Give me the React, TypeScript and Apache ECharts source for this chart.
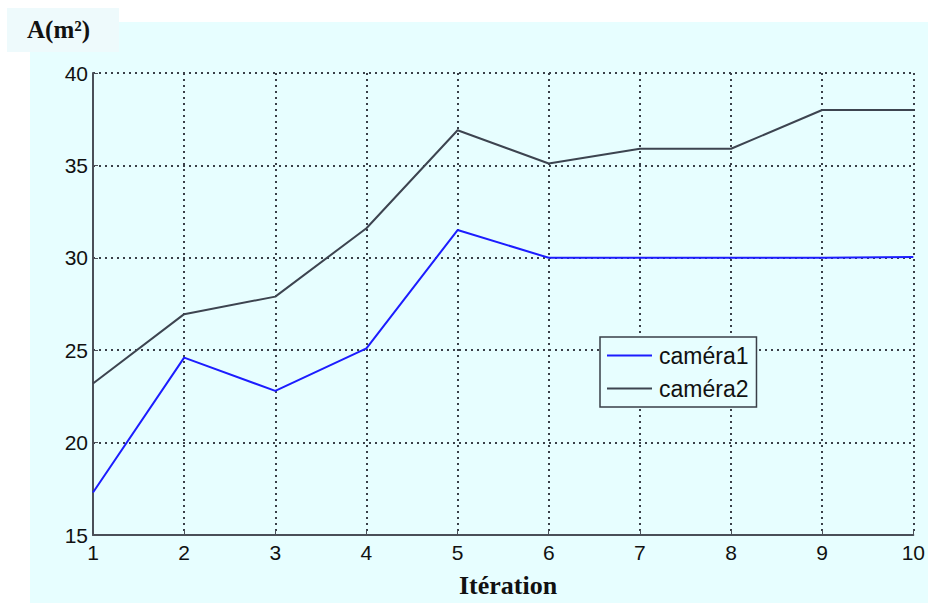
import React, { useEffect, useRef } from "react";
import * as echarts from "echarts";

const iterations = [1, 2, 3, 4, 5, 6, 7, 8, 9, 10];
const camera1 = [17.3, 24.6, 22.8, 25.1, 31.5, 30.0, 30.0, 30.0, 30.0, 30.05];
const camera2 = [23.2, 26.95, 27.9, 31.6, 36.9, 35.1, 35.9, 35.9, 38.0, 38.0];
const seriesNames = ["caméra1", "caméra2"];
const yTitle = "A(m²)";
const xTitle = "Itération";

export default function App() {
  const ref = useRef<HTMLDivElement>(null);
  useEffect(() => {
    if (!ref.current) return;
    const chart = echarts.init(ref.current, null, { renderer: "svg" });
    const dotted = { color: "#3a3f48", width: 2, type: [2, 4] as any };
    const labelFont = { fontFamily: "'Liberation Sans', Arial, sans-serif", fontSize: 21, color: "#111" };
    chart.setOption({
      animation: false,
      backgroundColor: "#ffffff",
      graphic: [
        { type: "rect", z: -10, silent: true, shape: { x: 30, y: 22, width: 898, height: 581 }, style: { fill: "#e7feff" } },
        { type: "rect", z: -9, silent: true, shape: { x: 7, y: 8, width: 112, height: 44 }, style: { fill: "#eefafc" } },
        {
          type: "text", left: 27, top: 17,
          style: { text: yTitle, font: "bold 25px 'Liberation Serif', 'Times New Roman', serif", fill: "#111" },
        },
        {
          type: "text", left: 459, top: 572,
          style: { text: xTitle, font: "bold 26px 'Liberation Serif', 'Times New Roman', serif", fill: "#111" },
        },
      ],
      grid: { left: 93, right: 14, top: 73, bottom: 68, containLabel: false },
      legend: {
        orient: "vertical",
        left: 600,
        top: 337,
        padding: [7, 8, 7, 7],
        itemGap: 10,
        itemWidth: 45,
        itemHeight: 2,
        icon: "rect",
        borderColor: "#3a3f48",
        borderWidth: 1.5,
        borderRadius: 0,
        backgroundColor: "#e7feff",
        textStyle: { fontFamily: "'Liberation Sans', Arial, sans-serif", fontSize: 23, color: "#111", padding: [0, 0, 0, 2] },
        data: seriesNames,
      },
      xAxis: {
        type: "value",
        min: 1,
        max: 10,
        interval: 1,
        axisLine: { show: true, onZero: false, lineStyle: { color: "#4a4f58", width: 2 } },
        axisTick: { show: true, inside: true, length: 5, lineStyle: { color: "#4a4f58" } },
        axisLabel: { ...labelFont, margin: 7 },
        splitLine: { show: true, lineStyle: dotted },
      },
      yAxis: {
        type: "value",
        min: 15,
        max: 40,
        interval: 5,
        axisLine: { show: true, onZero: false, lineStyle: { color: "#4a4f58", width: 2 } },
        axisTick: { show: true, inside: true, length: 5, lineStyle: { color: "#4a4f58" } },
        axisLabel: { ...labelFont, margin: 5 },
        splitLine: { show: true, lineStyle: dotted },
      },
      series: [
        {
          name: seriesNames[0],
          type: "line",
          symbol: "none",
          data: iterations.map((x, i) => [x, camera1[i]]),
          lineStyle: { color: "#1c1cff", width: 2 },
          itemStyle: { color: "#1c1cff" },
        },
        {
          name: seriesNames[1],
          type: "line",
          symbol: "none",
          data: iterations.map((x, i) => [x, camera2[i]]),
          lineStyle: { color: "#3d4450", width: 2 },
          itemStyle: { color: "#3d4450" },
        },
      ],
    });
    return () => chart.dispose();
  }, []);
  return <div ref={ref} style={{ width: 928, height: 603, position: "absolute", left: 0, top: 0 }} />;
}
